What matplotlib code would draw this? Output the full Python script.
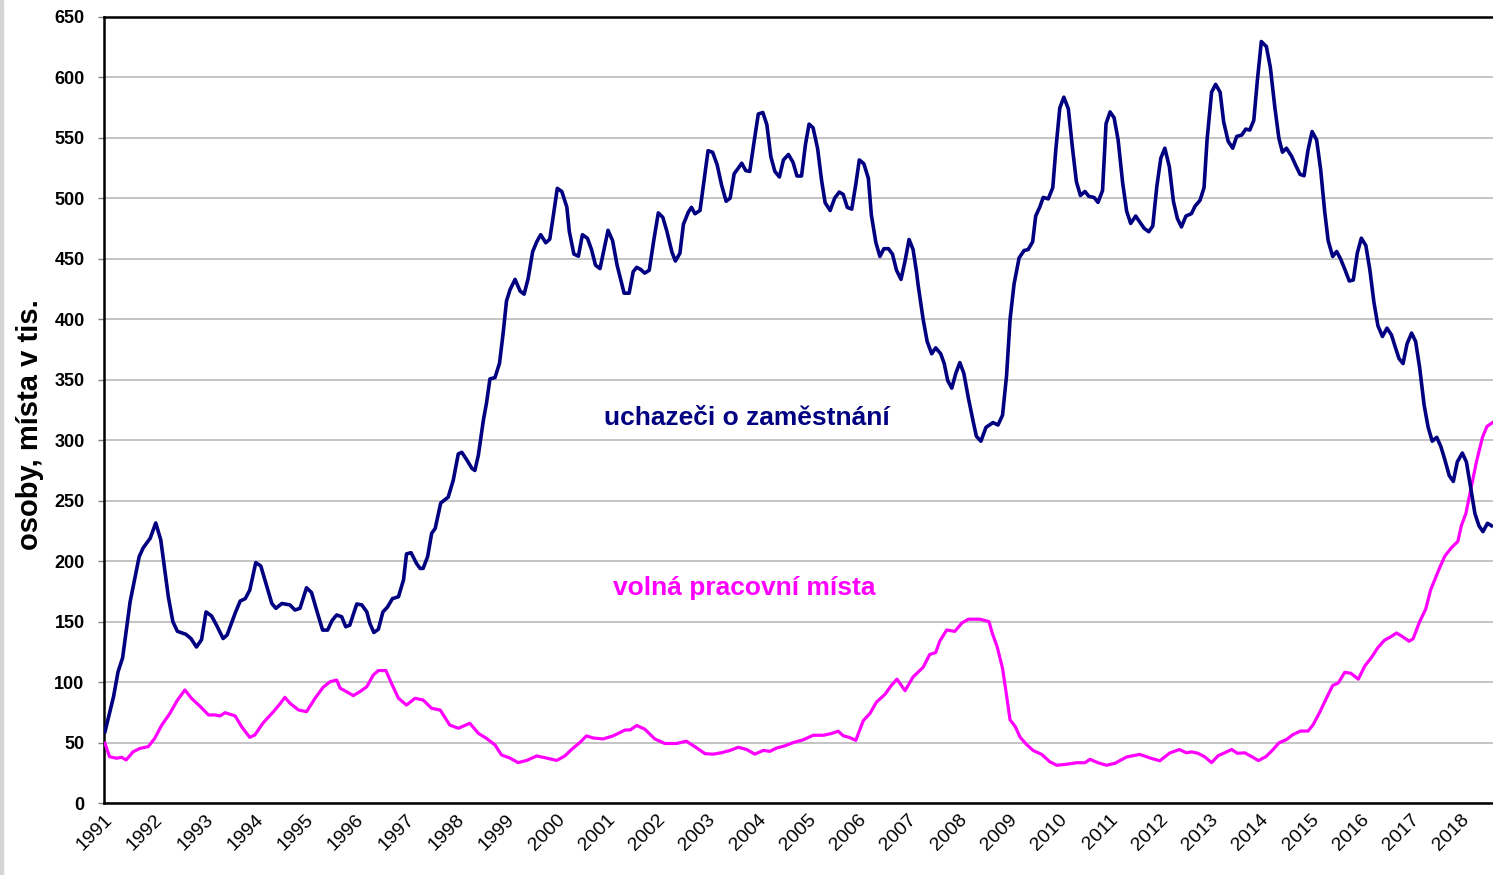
import matplotlib
matplotlib.use("Agg")
import matplotlib.pyplot as plt
from matplotlib.patches import Rectangle

plt.rcParams['font.family'] = ['Liberation Sans', 'DejaVu Sans']

# uchazeci o zamestnani (tis.), cas v letech
uch_t = [1991.02, 1991.19, 1991.28, 1991.37, 1991.52, 1991.70, 1991.78, 1991.92, 1992.03, 1992.13,
         1992.28, 1992.37, 1992.46, 1992.63, 1992.73, 1992.84, 1992.94, 1993.03, 1993.14, 1993.24,
         1993.37, 1993.45, 1993.61, 1993.71, 1993.81, 1993.90, 1994.02, 1994.12, 1994.24, 1994.34,
         1994.42, 1994.54, 1994.70, 1994.80, 1994.90, 1995.03, 1995.13, 1995.23, 1995.35, 1995.45,
         1995.54, 1995.63, 1995.73, 1995.81, 1995.89, 1996.03, 1996.13, 1996.23, 1996.29, 1996.37,
         1996.46, 1996.55, 1996.64, 1996.74, 1996.86, 1996.96, 1997.02, 1997.11, 1997.22, 1997.29,
         1997.35, 1997.44, 1997.52, 1997.59, 1997.70, 1997.85, 1997.95, 1998.05, 1998.12, 1998.22,
         1998.32, 1998.38, 1998.45, 1998.55, 1998.61, 1998.68, 1998.78, 1998.87, 1998.94, 1999.01,
         1999.08, 1999.18, 1999.28, 1999.36, 1999.44, 1999.53, 1999.61, 1999.69, 1999.79, 1999.87,
         1999.94, 2000.02, 2000.11, 2000.21, 2000.26, 2000.35, 2000.44, 2000.52, 2000.62, 2000.70,
         2000.78, 2000.87, 2000.95, 2001.03, 2001.12, 2001.21, 2001.35, 2001.45, 2001.53, 2001.60,
         2001.68, 2001.76, 2001.85, 2001.94, 2002.03, 2002.12, 2002.20, 2002.30, 2002.37, 2002.46,
         2002.53, 2002.63, 2002.69, 2002.76, 2002.86, 2002.94, 2003.02, 2003.11, 2003.20, 2003.29,
         2003.38, 2003.46, 2003.54, 2003.62, 2003.69, 2003.77, 2003.85, 2003.93, 2004.02, 2004.11,
         2004.19, 2004.27, 2004.35, 2004.44, 2004.52, 2004.62, 2004.71, 2004.79, 2004.88, 2004.96,
         2005.03, 2005.11, 2005.20, 2005.28, 2005.35, 2005.45, 2005.54, 2005.63, 2005.71, 2005.79,
         2005.88, 2005.96, 2006.03, 2006.12, 2006.21, 2006.27, 2006.36, 2006.44, 2006.52, 2006.61,
         2006.69, 2006.77, 2006.86, 2006.94, 2007.02, 2007.10, 2007.17, 2007.20, 2007.30, 2007.38,
         2007.47, 2007.55, 2007.65, 2007.72, 2007.79, 2007.87, 2007.95, 2008.03, 2008.11, 2008.20,
         2008.30, 2008.36, 2008.45, 2008.55, 2008.69, 2008.79, 2008.88, 2008.96, 2009.03, 2009.11,
         2009.21, 2009.31, 2009.39, 2009.48, 2009.54, 2009.62, 2009.69, 2009.79, 2009.88, 2009.94,
         2010.02, 2010.10, 2010.19, 2010.27, 2010.35, 2010.43, 2010.52, 2010.60, 2010.70, 2010.78,
         2010.87, 2010.94, 2011.02, 2011.10, 2011.18, 2011.27, 2011.35, 2011.43, 2011.53, 2011.61,
         2011.70, 2011.79, 2011.87, 2011.95, 2012.03, 2012.11, 2012.20, 2012.28, 2012.36, 2012.44,
         2012.53, 2012.64, 2012.71, 2012.81, 2012.89, 2012.95, 2013.04, 2013.12, 2013.21, 2013.28,
         2013.37, 2013.46, 2013.54, 2013.64, 2013.72, 2013.80, 2013.88, 2013.95, 2014.03, 2014.13,
         2014.21, 2014.30, 2014.38, 2014.45, 2014.53, 2014.63, 2014.72, 2014.80, 2014.88, 2014.96,
         2015.04, 2015.13, 2015.21, 2015.29, 2015.36, 2015.45, 2015.53, 2015.61, 2015.69, 2015.78,
         2015.86, 2015.94, 2016.02, 2016.11, 2016.19, 2016.27, 2016.35, 2016.44, 2016.53, 2016.62,
         2016.70, 2016.77, 2016.85, 2016.93, 2017.02, 2017.10, 2017.18, 2017.27, 2017.35, 2017.43,
         2017.52, 2017.60, 2017.68, 2017.77, 2017.85, 2017.93, 2018.03, 2018.11, 2018.20, 2018.28,
         2018.36, 2018.44, 2018.53, 2018.61]
uch_v = [59, 88, 108.6, 120, 166.5, 203.7, 211, 219, 231.6, 217.5,
         170.6, 150, 142, 139.5, 136, 129, 135, 158, 154.7, 147,
         136, 139, 157, 167, 169, 176, 198.8, 196, 179, 165,
         161, 165, 163.8, 159.6, 161, 178, 174, 159.6, 143, 143,
         151, 155.5, 154, 145.8, 147, 164.6, 163.8, 158, 148.6, 141,
         143.7, 158, 162, 169, 170.6, 184.5, 206, 207, 198, 194,
         194, 203.7, 223, 227, 248, 253, 267, 288.7, 290, 283.7,
         276.8, 275, 287.8, 316.8, 330.4, 350.7, 351.8, 363.6, 387.6, 415.3,
         424.5, 433, 423.4, 420.8, 433.8, 455.9, 464, 470, 463.3, 466.2,
         485.4, 508.3, 505.7, 492.8, 472.5, 454, 452.2, 470, 467, 457.8,
         444.8, 441.9, 457.8, 473.6, 465.1, 444.8, 421.6, 421.6, 439.3, 443,
         441.2, 438.2, 440.6, 465.3, 488, 484.3, 472.9, 455.8, 448.2, 454.6,
         478.6, 488.8, 492.6, 487.3, 490, 514.7, 539.4, 538.2, 528, 510.9,
         497.6, 500.2, 520.4, 524.9, 529.1, 523, 522.3, 545, 569.8, 571,
         561, 534.4, 522.3, 517.7, 531.8, 536.3, 529.9, 518.5, 518.5, 545,
         561.4, 558.4, 541.3, 514.7, 496.4, 490, 500.2, 505.2, 503.3, 492.6,
         491.1, 511.6, 531.8, 528.7, 516.6, 486.2, 463.4, 452, 458.4, 458.4,
         453.9, 440.6, 433, 448.2, 466, 457.7, 438.7, 428.5, 400, 381.7,
         371.5, 376.4, 371.5, 363.4, 349.2, 343.1, 355.3, 364.2, 355.3, 335,
         314.6, 303.3, 299.2, 310.6, 314.6, 312.6, 320.7, 353.3, 400, 429.3,
         450.8, 456.9, 457.7, 464.2, 485.4, 492.7, 500.8, 499.6, 508.9, 540.2,
         574.8, 583.7, 574, 542.3, 513.8, 502.4, 505.7, 501.6, 500.8, 496.7,
         506.5, 561.8, 571.5, 566.7, 548.4, 513, 489.4, 479.3, 485.4, 480.5,
         475.2, 472.4, 477.2, 509.8, 533.3, 541.5, 526, 497.6, 483.3, 476.4,
         485.4, 487.4, 493.5, 498.4, 508.9, 548.4, 587.8, 594.3, 587.8, 563.4,
         547.2, 541.5, 551.2, 552.4, 557.3, 556.5, 564.6, 597.2, 629.7, 625.6,
         608.1, 574.8, 549.6, 538.2, 541.5, 535, 526.8, 519.9, 518.7, 540.2,
         555.3, 548.4, 524, 489.4, 465, 452, 456.1, 449.6, 441.5, 431.7,
         432.5, 454.9, 467.1, 461, 440.7, 414.2, 394.7, 385.8, 392.7, 387,
         376.4, 367.5, 363.4, 379.7, 388.6, 381.7, 360.2, 328.9, 310.6, 299.2,
         302.4, 295.1, 284.1, 270.7, 265.9, 282.1, 289.4, 282.1, 259.8, 239.4,
         229.3, 224.4, 231.3, 229.3]

# volna pracovni mista (tis.)
vpm_t = [1991.02, 1991.11, 1991.25, 1991.35, 1991.44, 1991.58, 1991.72, 1991.88, 1992.01, 1992.15,
         1992.31, 1992.46, 1992.61, 1992.74, 1992.91, 1993.08, 1993.21, 1993.31, 1993.41, 1993.61,
         1993.74, 1993.90, 1994.00, 1994.17, 1994.37, 1994.50, 1994.60, 1994.70, 1994.87, 1995.03,
         1995.20, 1995.36, 1995.50, 1995.63, 1995.70, 1995.83, 1995.96, 1996.09, 1996.23, 1996.36,
         1996.46, 1996.61, 1996.72, 1996.86, 1997.02, 1997.19, 1997.35, 1997.52, 1997.69, 1997.88,
         1998.05, 1998.28, 1998.45, 1998.61, 1998.78, 1998.91, 1999.08, 1999.24, 1999.41, 1999.61,
         1999.77, 2000.01, 2000.17, 2000.31, 2000.47, 2000.60, 2000.74, 2000.93, 2001.13, 2001.37,
         2001.47, 2001.60, 2001.76, 2001.96, 2002.16, 2002.39, 2002.59, 2002.76, 2002.96, 2003.12,
         2003.29, 2003.46, 2003.62, 2003.79, 2003.95, 2004.12, 2004.25, 2004.38, 2004.55, 2004.71,
         2004.91, 2005.11, 2005.31, 2005.48, 2005.61, 2005.71, 2005.84, 2005.96, 2006.11, 2006.24,
         2006.37, 2006.54, 2006.67, 2006.78, 2006.94, 2007.10, 2007.30, 2007.43, 2007.55, 2007.63,
         2007.77, 2007.93, 2008.07, 2008.20, 2008.43, 2008.61, 2008.68, 2008.77, 2008.88, 2008.96,
         2009.03, 2009.13, 2009.23, 2009.36, 2009.49, 2009.66, 2009.82, 2009.96, 2010.15, 2010.35,
         2010.52, 2010.62, 2010.78, 2010.95, 2011.12, 2011.35, 2011.61, 2011.81, 2012.01, 2012.21,
         2012.40, 2012.54, 2012.64, 2012.77, 2012.90, 2013.04, 2013.17, 2013.30, 2013.44, 2013.55,
         2013.70, 2013.84, 2013.97, 2014.12, 2014.25, 2014.38, 2014.53, 2014.66, 2014.81, 2014.96,
         2015.06, 2015.19, 2015.33, 2015.45, 2015.56, 2015.69, 2015.81, 2015.96, 2016.09, 2016.22,
         2016.35, 2016.48, 2016.62, 2016.72, 2016.83, 2016.97, 2017.05, 2017.18, 2017.30, 2017.40,
         2017.48, 2017.58, 2017.68, 2017.81, 2017.94, 2018.01, 2018.10, 2018.19, 2018.31, 2018.43,
         2018.52, 2018.63]
vpm_v = [49.4, 38.3, 37, 37.8, 35.6, 42.4, 45.2, 46.6, 53.5, 64.5,
         74, 85, 93.5, 86.6, 80, 72.8, 72.8, 72, 74.7, 72,
         63, 54.3, 56.2, 66.4, 75.5, 81.9, 87.4, 82.5, 76.9, 75.5,
         86.6, 95.7, 100.3, 101.7, 94.9, 92, 88.8, 92, 96.2, 105.9,
         109.5, 109.5, 99, 86.6, 81, 86.6, 85.2, 78.3, 76.9, 64.5,
         61.8, 65.9, 57.6, 53.5, 48, 39.7, 37.1, 33.4, 35.2, 38.9,
         37.5, 35.2, 38.9, 44.5, 50, 55.5, 53.7, 53, 55.5, 60.4,
         60.4, 64.1, 61.1, 53, 49.2, 49.2, 51.1, 46.5, 40.8, 40.4,
         41.6, 43.5, 46.1, 44.2, 40.4, 43.5, 42.7, 45.4, 47.3, 49.9,
         52.2, 56, 56, 57.5, 59.4, 55.6, 54.1, 51.8, 68.2, 73.9,
         83.4, 89.8, 97.4, 102.4, 92.9, 104.3, 112.2, 122.8, 124.4, 133.8,
         143.1, 141.9, 148.8, 152, 152, 150, 139.9, 129.7, 111.4, 89,
         68.7, 63.4, 54.4, 48.3, 43.4, 40.2, 34.1, 31.2, 32, 33.3,
         33.3, 36.1, 33.3, 31.2, 32.9, 38.1, 40.2, 37.3, 34.9, 41.4,
         44.2, 41.5, 42.3, 41.1, 38.3, 33.4, 39.1, 41.5, 44.3, 41.1,
         41.5, 38.3, 35.1, 38.3, 43.6, 49.7, 52.5, 56.6, 59.5, 59.5,
         64.7, 74.9, 87.1, 97.2, 99.2, 108.1, 107.3, 102.4, 113.4, 120.3,
         128.5, 134.6, 137.8, 140.6, 137.8, 133.8, 135.8, 150, 160.2, 176.4,
         184.5, 194.7, 204.1, 211, 216.3, 229.3, 239.4, 257.7, 282.1, 302.4,
         311.4, 314.6]

years = list(range(1991, 2019))
y_ticks = list(range(0, 651, 50))

fig = plt.figure(figsize=(14.93, 8.75), dpi=100)
# sedy pruh na levem okraji
fig.patches.append(Rectangle((0, 0), 3 / 1493, 1, transform=fig.transFigure,
                             color='#d4d4d4', zorder=0))
ax = fig.add_axes([104 / 1493, 72 / 875, 1389 / 1493, 786 / 875])

ax.plot(vpm_t, vpm_v, color='#ff00ff', lw=2.3, zorder=3)
ax.plot(uch_t, uch_v, color='#000080', lw=2.6, zorder=4)

ax.set_xlim(1991, 2018.64)
ax.set_ylim(0, 650)
ax.set_yticks(y_ticks)
ax.set_xticks(years)
ax.set_xticklabels([str(y) for y in years], rotation=45, ha='right', va='top',
                   rotation_mode='anchor', fontsize=14)
for lab in ax.get_yticklabels():
    lab.set_fontweight('bold')
    lab.set_fontsize(13)
ax.tick_params(axis='y', length=4, width=1, color='#808080', pad=10)
ax.tick_params(axis='x', length=0, pad=6)

ax.grid(axis='y', color='#b4b4b4', lw=1.1)
ax.set_axisbelow(True)
ax.spines['right'].set_visible(False)
for s in ['left', 'bottom', 'top']:
    ax.spines[s].set_linewidth(1.8)
    ax.spines[s].set_color('black')

ax.set_ylabel('osoby, místa v tis.', fontsize=21, fontweight='bold')
ax.yaxis.set_label_coords(-60 / 1389, 0.5 - 15 / 786)

ax.text(2003.8, 318, 'uchazeči o zaměstnání', color='#000080', fontsize=19,
        fontweight='bold', ha='center', va='center')
ax.text(2003.75, 178, 'volná pracovní místa', color='#ff00ff', fontsize=19,
        fontweight='bold', ha='center', va='center')

fig.savefig('out.png', dpi=100)
